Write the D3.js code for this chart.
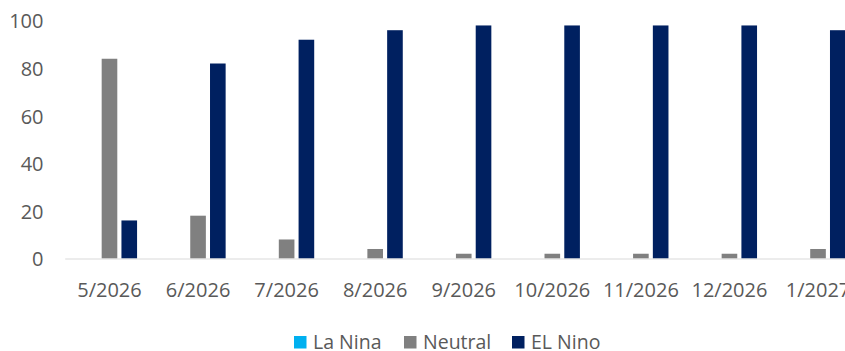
<!DOCTYPE html>
<html>
<head>
<meta charset="utf-8">
<script src="https://cdn.jsdelivr.net/npm/d3@7"></script>
<style>
  html, body { margin: 0; padding: 0; background: #fff; overflow: hidden; }
  svg { display: block; }
  text { font-family: "Open Sans", sans-serif; fill: #595959; }
</style>
</head>
<body>
<svg id="chart" width="845" height="351"></svg>
<script>
// ENSO outlook: probability (%) of each phase by month
const months = ["5/2026", "6/2026", "7/2026", "8/2026", "9/2026", "10/2026", "11/2026", "12/2026", "1/2027"];
const seriesNames = ["La Nina", "Neutral", "EL Nino"];
const laNina  = [0, 0, 0, 0, 0, 0, 0, 0, 0];
const neutral = [84, 18, 8, 4, 2, 2, 2, 2, 4];
const elNino  = [16, 82, 92, 96, 98, 98, 98, 98, 96];
const yTicks  = [0, 20, 40, 60, 80, 100];
const colors  = ["#00B0F0", "#808080", "#002060"];

const values = [laNina, neutral, elNino];
const rows = months.map((m, i) => ({
  month: m,
  vals: seriesNames.map((s, k) => ({ series: s, value: values[k][i], color: colors[k] }))
}));

const svg = d3.select("#chart");
const plot = { left: 65.2, right: 862.3, top: 20.7, bottom: 258.5 };

const x0 = d3.scaleBand()
  .domain(months)
  .range([plot.left, plot.right])
  .paddingInner(0.377)
  .paddingOuter(0.1885);

const x1 = d3.scaleBand()
  .domain(seriesNames)
  .range([0, x0.bandwidth()])
  .paddingInner(0.21);

const y = d3.scaleLinear()
  .domain([0, 100])
  .range([plot.bottom, plot.top]);

// bars
const groups = svg.append("g")
  .selectAll("g")
  .data(rows)
  .join("g")
  .attr("transform", d => `translate(${x0(d.month)},0)`);

groups.selectAll("rect")
  .data(d => d.vals)
  .join("rect")
  .attr("x", d => x1(d.series))
  .attr("width", x1.bandwidth())
  .attr("y", d => y(d.value))
  .attr("height", d => y(0) - y(d.value))
  .attr("fill", d => d.color);

// category baseline
svg.append("line")
  .attr("x1", plot.left).attr("x2", 845)
  .attr("y1", y(0) + 0.5).attr("y2", y(0) + 0.5)
  .attr("stroke", "#d9d9d9")
  .attr("stroke-width", 1.2);

// y axis labels
const yAxis = d3.axisLeft(y).tickValues(yTicks).tickSize(0).tickPadding(0);
const gy = svg.append("g")
  .attr("transform", "translate(43.5,0)")
  .call(yAxis);
gy.select(".domain").remove();
gy.selectAll("text")
  .attr("font-family", "Open Sans, sans-serif")
  .attr("font-size", 20)
  .attr("fill", "#595959")
  .attr("dy", "0.36em");

// x axis labels
const xAxis = d3.axisBottom(x0).tickSize(0).tickPadding(0);
const gx = svg.append("g")
  .attr("transform", "translate(0,282)")
  .call(xAxis);
gx.select(".domain").remove();
gx.selectAll("text")
  .attr("font-family", "Open Sans, sans-serif")
  .attr("font-size", 20)
  .attr("fill", "#595959")
  .attr("dy", "0.74em");

// legend
const legendX = [294, 404, 512];
const legend = svg.append("g")
  .selectAll("g")
  .data(seriesNames)
  .join("g")
  .attr("transform", (d, i) => `translate(${legendX[i]},336)`);
legend.append("rect")
  .attr("width", 12.5).attr("height", 12.5)
  .attr("fill", (d, i) => colors[i]);
legend.append("text")
  .attr("x", 19)
  .attr("y", 12.5)
  .attr("font-size", 19.5)
  .text(d => d);
</script>
</body>
</html>
